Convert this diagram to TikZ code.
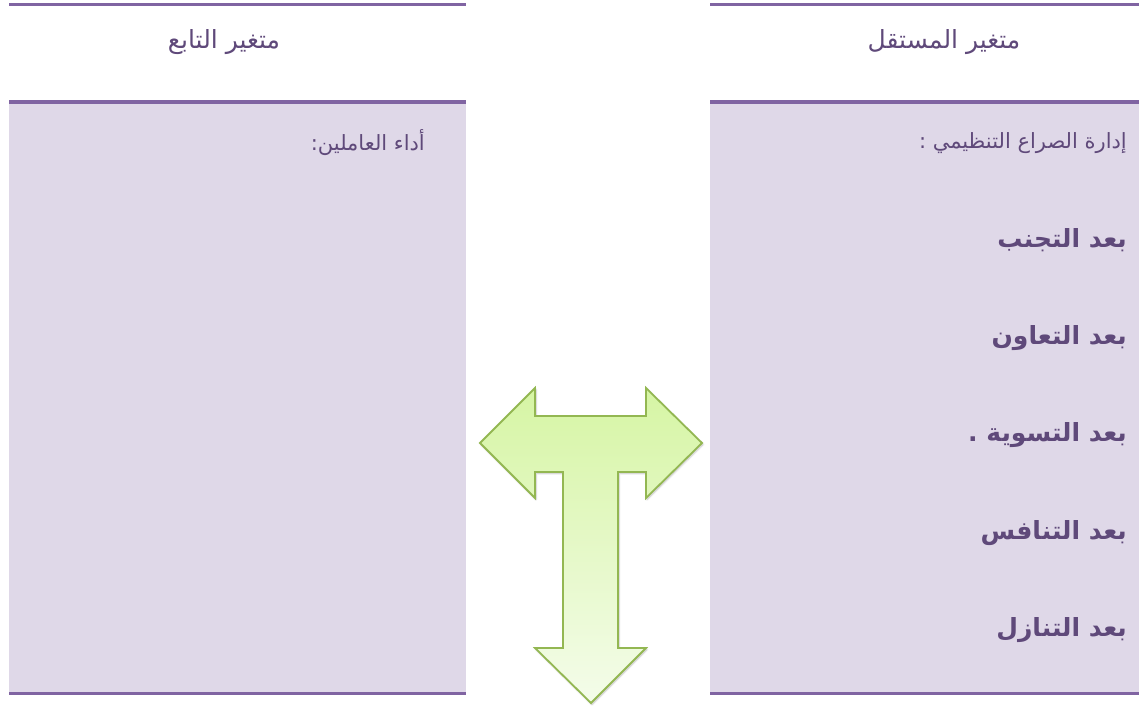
\documentclass[tikz,border=0pt]{standalone}
\usepackage{fontspec}
\TeXXeTstate=1
\newfontfamily\arabicfont[Script=Arabic]{DejaVu Sans}
\usetikzlibrary{shadows.blur}
\definecolor{rule}{HTML}{8064A2}
\definecolor{panel}{HTML}{DFD8E8}
\definecolor{ink}{HTML}{5F497A}
\definecolor{arrowedge}{HTML}{93B752}
\definecolor{arrowtop}{HTML}{D6F5A4}
\definecolor{arrowbot}{HTML}{F4FCEA}
\tikzset{
  rulebar/.style={draw=rule, line width=3.2pt},
  panelbox/.style={fill=panel, draw=none},
  header/.style={text=ink, font=\arabicfont\fontsize{25}{29}\selectfont, inner sep=0pt},
  itemtext/.style={text=ink, font=\arabicfont\fontsize{21}{25}\selectfont, inner sep=0pt, anchor=east},
  dimtext/.style={text=ink, font=\arabicfont\bfseries\fontsize{25}{29}\selectfont, inner sep=0pt, anchor=east},
  tarrow/.style={draw=arrowedge, line width=1.8pt, line join=miter,
    top color=arrowtop, bottom color=arrowbot,
    blur shadow={shadow xshift=1pt, shadow yshift=-1.5pt, shadow blur steps=6, shadow opacity=25}}
}
\begin{document}
\begin{tikzpicture}[x=1pt, y=-1pt]
\useasboundingbox (0,0) rectangle (1139,708);

% dependent variable column (left)
\fill[panelbox] (9,102) rectangle (466,693.5);
\draw[rulebar] (9,4.5) -- (466,4.5);
\draw[rulebar] (9,102) -- (466,102);
\draw[rulebar] (9,693.5) -- (466,693.5);
\node[header] (hdep) at (224,42) {\beginR متغير التابع\endR};
\node[itemtext] (perf) at (425,143) {\beginR أداء العاملين:\endR};

% independent variable column (right)
\fill[panelbox] (710,102) rectangle (1139,693.5);
\draw[rulebar] (710,4.5) -- (1139,4.5);
\draw[rulebar] (710,102) -- (1139,102);
\draw[rulebar] (710,693.5) -- (1139,693.5);
\node[header] (hind) at (944,42) {\beginR متغير المستقل\endR};
\node[itemtext] (conf) at (1127,143) {\beginR إدارة الصراع التنظيمي :\endR};
\node[dimtext] (d1) at (1127,240) {\beginR بعد التجنب\endR};
\node[dimtext] (d2) at (1127,338) {\beginR بعد التعاون\endR};
\node[dimtext] (d3) at (1127,435) {\beginR بعد التسوية .\endR};
\node[dimtext] (d4) at (1127,533) {\beginR بعد التنافس\endR};
\node[dimtext] (d5) at (1127,630) {\beginR بعد التنازل\endR};

% three-way T arrow between the columns
\draw[tarrow]
  (480,443) -- (535,388) -- (535,416) -- (646,416) -- (646,388)
  -- (702,443) -- (646,498) -- (646,472) -- (618,472) -- (618,648)
  -- (646,648) -- (591,703) -- (535,648) -- (563,648) -- (563,472)
  -- (535,472) -- (535,498) -- cycle;
\end{tikzpicture}
\end{document}
